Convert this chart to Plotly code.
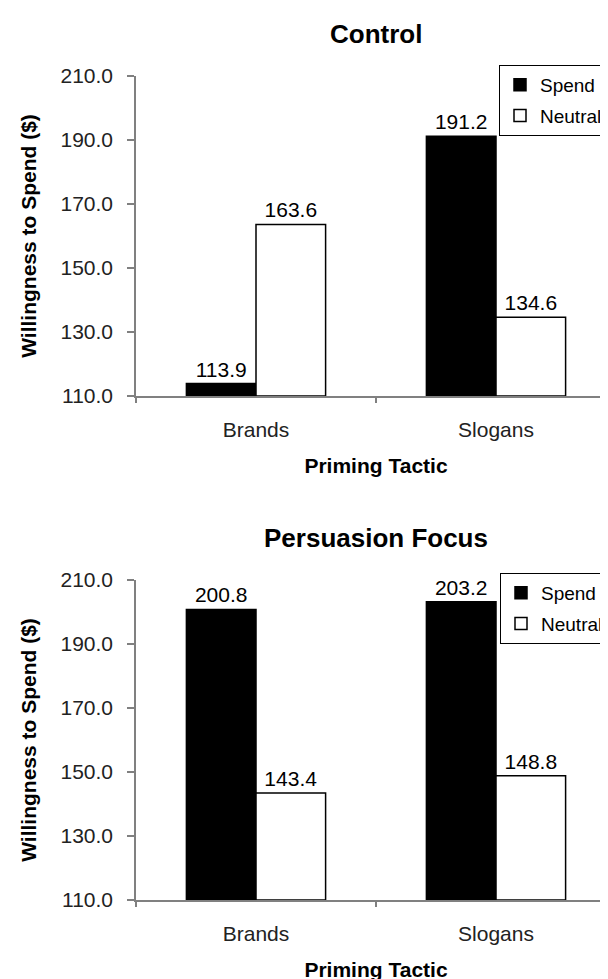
import plotly.graph_objects as go

# ---- data ----
categories = ["Brands", "Slogans"]
panel_titles = ["Control", "Persuasion Focus"]
series_names = ["Spend", "Neutral"]
control_spend = [113.9, 191.2]
control_neutral = [163.6, 134.6]
persuasion_spend = [200.8, 203.2]
persuasion_neutral = [143.4, 148.8]
y_ticks = [110, 130, 150, 170, 190, 210]
y_tick_labels = ["110.0", "130.0", "150.0", "170.0", "190.0", "210.0"]
x_title = "Priming Tactic"
y_title = "Willingness to Spend ($)"

Y_MIN, Y_MAX = 110, 210
W, H = 608, 979
FONT = "Liberation Sans, Arial, sans-serif"
AXIS_GREY = "#808080"

fig = go.Figure()

panels = [
    (control_spend, control_neutral, "x", "y", "legend"),
    (persuasion_spend, persuasion_neutral, "x2", "y2", "legend2"),
]
for pi, (spend, neutral, xa, ya, lg) in enumerate(panels):
    for si, (vals, fill) in enumerate([(spend, "black"), (neutral, "white")]):
        fig.add_trace(go.Bar(
            x=categories,
            y=[v - Y_MIN for v in vals],
            base=Y_MIN,
            name=series_names[si],
            text=[f"{v:.1f}" for v in vals],
            textposition="outside",
            textfont=dict(family=FONT, size=21, color="black"),
            constraintext="none",
            cliponaxis=False,
            marker=dict(color=fill, line=dict(color="black", width=1.5)),
            xaxis=xa, yaxis=ya,
            legend=lg,
            legendgroup=f"{lg}_{si}",
            hovertemplate="%{x}: %{text}<extra>" + series_names[si] + "</extra>",
        ))

x_dom = [128 / W, 1.0]
y_dom_top = [1 - 388 / H, 1 - 68 / H]
y_dom_bot = [1 - 892 / H, 1 - 572 / H]

def xaxis_cfg(anchor):
    return dict(
        domain=x_dom, anchor=anchor, type="category",
        range=[-0.5, 1.5],
        showline=True, linecolor=AXIS_GREY, linewidth=1.5,
        ticks="outside", ticklen=5, tickcolor=AXIS_GREY, tickwidth=1.5,
        tickson="boundaries",
        ticklabelstandoff=14,
        tickfont=dict(family=FONT, size=21, color="#222222"),
        showgrid=False, zeroline=False,
        title=dict(text=x_title, standoff=18,
                   font=dict(family=FONT, size=21, color="black", weight="bold")),
    )

def yaxis_cfg(anchor, dom):
    return dict(
        domain=dom, anchor=anchor,
        range=[Y_MIN, Y_MAX],
        tickvals=y_ticks, ticktext=y_tick_labels,
        showline=True, linecolor=AXIS_GREY, linewidth=1.5,
        ticks="outside", ticklen=7, tickcolor=AXIS_GREY, tickwidth=1.5,
        ticklabelstandoff=10,
        tickfont=dict(family=FONT, size=21, color="#222222"),
        showgrid=False, zeroline=False,
        title=dict(text=y_title, standoff=18,
                   font=dict(family=FONT, size=21, color="black", weight="bold")),
    )

legend_common = dict(
    xanchor="left", yanchor="top",
    bgcolor="white", bordercolor="black", borderwidth=1,
    font=dict(family=FONT, size=19, color="black"),
    tracegroupgap=3, itemclick=False, itemdoubleclick=False,
)

fig.update_layout(
    width=W, height=H,
    margin=dict(l=0, r=0, t=0, b=0, autoexpand=False),
    paper_bgcolor="white", plot_bgcolor="white",
    barmode="group", bargap=0.42, bargroupgap=0,
    font=dict(family=FONT, color="black"),
    xaxis=xaxis_cfg("y"),
    yaxis=yaxis_cfg("x", y_dom_top),
    xaxis2=xaxis_cfg("y2"),
    yaxis2=yaxis_cfg("x2", y_dom_bot),
    legend=dict(x=491 / W, y=1 - 57 / H, **legend_common),
    legend2=dict(x=492 / W, y=1 - 565 / H, **legend_common),
    annotations=[
        dict(text=panel_titles[0], x=368 / W, y=1 - 26 / H, xref="paper", yref="paper",
             xanchor="center", yanchor="middle",
             showarrow=False, font=dict(family=FONT, size=26, color="black", weight="bold")),
        dict(text=panel_titles[1], x=368 / W, y=1 - 530 / H, xref="paper", yref="paper",
             xanchor="center", yanchor="middle",
             showarrow=False, font=dict(family=FONT, size=26, color="black", weight="bold")),
    ],
)

fig.write_html("out.html")
